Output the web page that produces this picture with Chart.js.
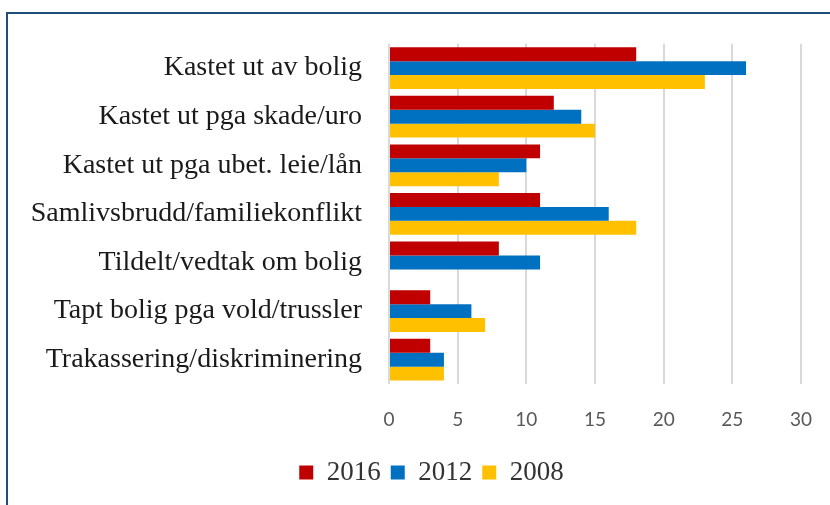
<!DOCTYPE html>
<html>
<head>
<meta charset="utf-8">
<script src="https://cdn.jsdelivr.net/npm/chart.js@4"></script>
<style>
  html, body { margin: 0; padding: 0; background: #fff; }
  #wrap { position: relative; width: 830px; height: 505px; }
  #frame { position: absolute; left: 6px; top: 12px; right: -10px; bottom: -10px;
           border-top: 2px solid #1f4e79; border-left: 2px solid #1f4e79; }
  canvas { position: absolute; left: 0; top: 0; }
</style>
</head>
<body>
<div id="wrap">
  <div id="frame"></div>
  <canvas id="chart" width="830" height="505"></canvas>
</div>
<script>
const categories = [
  "Kastet ut av bolig",
  "Kastet ut pga skade/uro",
  "Kastet ut pga ubet. leie/lån",
  "Samlivsbrudd/familiekonflikt",
  "Tildelt/vedtak om bolig",
  "Tapt bolig pga vold/trussler",
  "Trakassering/diskriminering"
];
const values2016 = [18, 12, 11, 11, 8, 3, 3];
const values2012 = [26, 14, 10, 16, 11, 6, 4];
const values2008 = [23, 15, 8, 18, null, 7, 4];
const xTicks = [0, 5, 10, 15, 20, 25, 30];

// legend sits a bit right of centre in the original
const shiftLegend = {
  id: "shiftLegend",
  afterLayout(chart) {
    chart.legend.left += 31;
    chart.legend.right += 31;
  }
};

const ctx = document.getElementById("chart");

new Chart(ctx.getContext("2d"), {
  type: "bar",
  data: {
    labels: categories,
    datasets: [
      { label: "2016", data: values2016, backgroundColor: "#c00000" },
      { label: "2012", data: values2012, backgroundColor: "#0070c0" },
      { label: "2008", data: values2008, backgroundColor: "#ffc000" }
    ]
  },
  options: {
    indexAxis: "y",
    responsive: false,
    animation: false,
    devicePixelRatio: 1,
    datasets: {
      bar: { barPercentage: 1.0, categoryPercentage: 0.86 }
    },
    layout: { padding: { left: 0, right: 29, top: 43, bottom: 9 } },
    scales: {
      x: {
        min: 0,
        max: 30,
        afterBuildTicks: scale => { scale.ticks = xTicks.map(v => ({ value: v })); },
        afterFit: scale => {
          scale.height = 65;
          scale.paddingLeft = 0;
          scale.paddingRight = 0;
        },
        border: { display: false },
        grid: { color: "#d9d9d9", lineWidth: 2, drawTicks: false },
        ticks: {
          padding: 24,
          color: "#595959",
          font: { family: "Lato", size: 19 }
        }
      },
      y: {
        afterFit: scale => { scale.width = 389; },
        border: { display: false },
        grid: { display: false, drawTicks: false },
        ticks: {
          padding: 27,
          color: "#1a1a1a",
          font: { family: "Liberation Serif", size: 28 }
        }
      }
    },
    plugins: {
      tooltip: { enabled: false },
      legend: {
        position: "bottom",
        labels: {
          boxWidth: 14,
          boxHeight: 14,
          padding: 10,
          color: "#333333",
          font: { family: "Liberation Serif", size: 27 }
        }
      }
    }
  },
  plugins: [shiftLegend]
});
</script>
</body>
</html>
